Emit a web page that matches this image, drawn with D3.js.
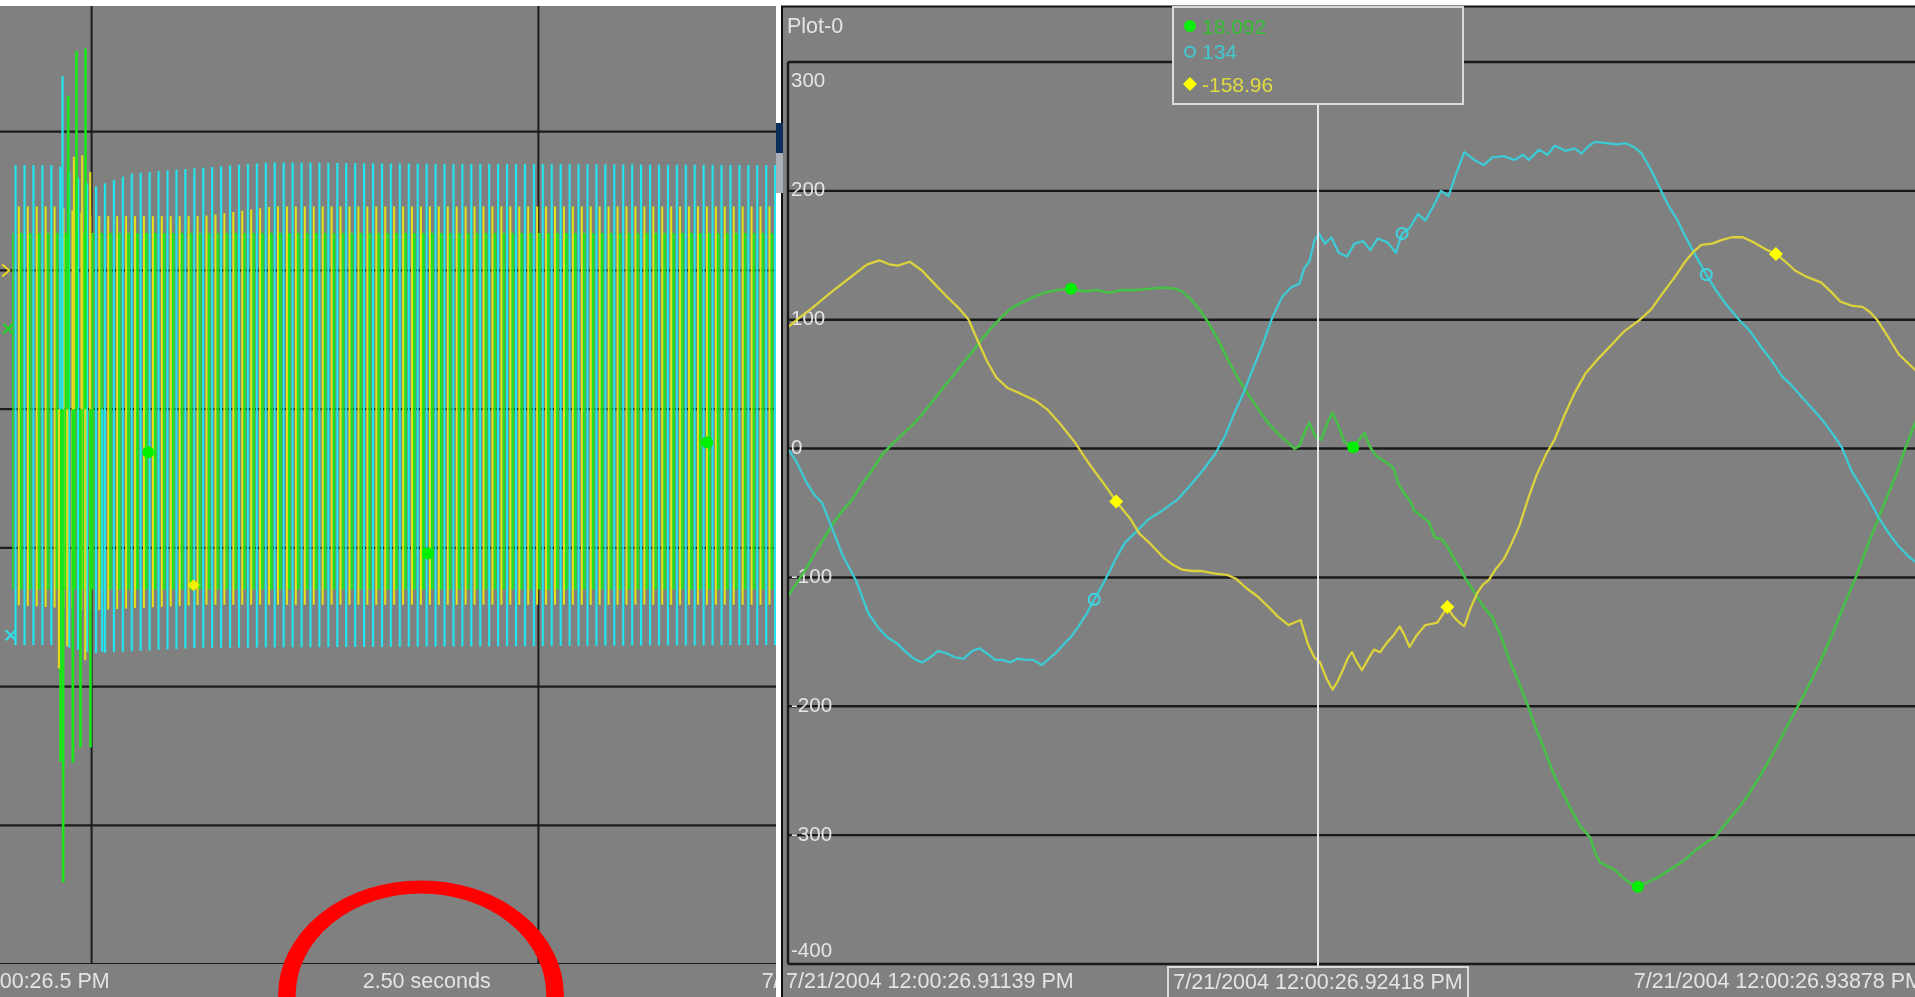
<!DOCTYPE html>
<html><head><meta charset="utf-8">
<script src="https://cdn.jsdelivr.net/npm/d3@7"></script>
<style>
html,body{margin:0;padding:0;background:#fff;overflow:hidden}
svg{display:block;filter:blur(0.5px)}
text{font-family:"Liberation Sans",Arial,sans-serif}
</style></head><body>
<svg id="c" width="1915" height="997"></svg>
<script>
// ================= DATA =================
// ---- Left panel (overview, seconds after 12:00:00) ----
const datePrefix = "7/21/2004 12:00:";
const leftStartSec = 26.5;
const leftEndSec = 29.0;
const leftXGrid = [27.0, 28.0];
const leftYGrid = [200, 100, 0, -100, -200, -300, -400];
const leftCarrierHz = 50;
// envelopes of the dense waveforms [time s, value]
const cyanEnvUpper = [[26.8223,176],[26.923,176],[27.0058,160],[27.0909,170],[27.4042,178],[27.6728,177],[28.55,176]];
const cyanEnvLower = [[26.8223,-170],[26.923,-170],[27.0058,-176],[27.2475,-172],[28.55,-170]];
const yellowEnvUpper = [[26.8223,146],[26.923,146],[27.0058,139],[27.2475,139],[27.4042,146],[28.55,146]];
const yellowEnvLower = [[26.8223,-141],[27.0058,-145],[27.2475,-141],[28.55,-141]];
const greenEnvUpper = [[26.8223,127],[28.55,127]];
const greenEnvLower = [[26.8223,-130],[28.55,-130]];
// fault transient peaks [time s, value]
const greenSpikes = [[26.9304,-254],[26.9364,-341],[26.9476,226],[26.9581,-255],[26.9662,258],[26.9752,-244],[26.9864,260],[26.9975,-244]];
const yellowSpikes = [[26.9268,-187],[26.9454,-171],[26.9604,182],[26.9790,183],[26.9857,-181],[26.9969,171]];
const cyanSpikes = [[26.9349,240],[27.0237,-175]];
// markers on the overview
const leftGreenDots = [[27.1267,-31],[27.7527,-104],[28.3778,-24]];
const leftYellowDiamonds = [[27.2283,-127]];
const leftStartMarks = [["yellow",26.8089,100],["green",26.8133,58],["cyan",26.8189,-163]];

// ---- Right panel "Plot-0" (ms after 12:00:26.900) ----
const plotTitle = "Plot-0";
const rightBaseSec = 26.9;
const rightDomainMs = [11.39, 38.78];
const rightTimeTicksMs = [11.39, 24.18, 38.78];
const cursorMs = 24.18;
const rightYTicks = [300, 200, 100, 0, -100, -200, -300, -400];
const legendValues = ["18.092", "134", "-158.96"];

const yellowSeries = [[11.38,94],[11.68,102],[11.97,109],[12.42,121],[12.86,132],[13.30,143],[13.60,146],[13.83,143],[14.04,142],[14.33,145],[14.63,138],[14.92,128],[15.22,118],[15.51,109],[15.75,100],[15.95,85],[16.19,68],[16.42,55],[16.69,47],[16.98,43],[17.37,37],[17.66,30],[17.96,19],[18.31,5],[18.66,-12],[19.05,-29],[19.31,-41],[19.64,-54],[19.87,-66],[20.17,-75],[20.43,-84],[20.67,-90],[20.90,-94],[21.14,-95],[21.35,-95],[21.70,-97],[21.99,-98],[22.20,-101],[22.44,-108],[22.73,-115],[23.02,-124],[23.20,-130],[23.47,-137],[23.61,-135],[23.76,-133],[23.94,-152],[24.09,-162],[24.23,-166],[24.38,-178],[24.53,-187],[24.65,-181],[24.79,-171],[24.91,-162],[25.00,-158],[25.12,-166],[25.24,-172],[25.38,-164],[25.53,-156],[25.68,-158],[25.86,-150],[26.00,-145],[26.15,-138],[26.27,-145],[26.39,-154],[26.56,-145],[26.77,-137],[26.92,-136],[27.06,-135],[27.30,-123],[27.44,-130],[27.59,-135],[27.71,-138],[27.86,-124],[28.01,-113],[28.15,-106],[28.30,-102],[28.48,-93],[28.66,-86],[28.86,-73],[29.04,-60],[29.25,-39],[29.45,-21],[29.69,-4],[29.89,7],[30.13,26],[30.37,43],[30.63,58],[30.92,69],[31.22,79],[31.57,91],[31.95,100],[32.22,108],[32.51,121],[32.81,134],[33.04,145],[33.22,152],[33.43,158],[33.69,159],[33.93,162],[34.17,164],[34.43,164],[34.70,160],[34.96,155],[35.23,151],[35.46,145],[35.70,138],[35.99,133],[36.32,129],[36.58,121],[36.79,114],[37.05,111],[37.32,110],[37.50,106],[37.67,100],[37.91,88],[38.20,73],[38.59,61],[38.78,54]];

const cyanSeries = [[11.38,0],[11.59,-10],[11.83,-26],[12.03,-36],[12.21,-42],[12.42,-59],[12.71,-83],[13.04,-103],[13.33,-128],[13.57,-139],[13.77,-146],[14.01,-151],[14.21,-157],[14.42,-163],[14.63,-166],[14.83,-162],[15.01,-157],[15.22,-159],[15.42,-162],[15.63,-163],[15.84,-157],[16.01,-155],[16.19,-159],[16.39,-164],[16.57,-164],[16.75,-166],[16.93,-163],[17.13,-164],[17.31,-164],[17.51,-168],[17.66,-164],[17.84,-159],[18.07,-151],[18.25,-145],[18.40,-138],[18.60,-128],[18.78,-117],[18.96,-107],[19.14,-96],[19.31,-85],[19.52,-73],[19.78,-65],[20.08,-55],[20.43,-48],[20.81,-39],[21.11,-28],[21.40,-17],[21.70,-4],[21.94,10],[22.14,26],[22.38,43],[22.61,62],[22.85,81],[23.08,102],[23.32,118],[23.53,125],[23.73,128],[23.85,140],[23.97,145],[24.09,161],[24.20,167],[24.35,159],[24.50,164],[24.68,152],[24.88,149],[25.06,159],[25.27,161],[25.44,154],[25.62,163],[25.86,160],[26.06,152],[26.21,167],[26.39,171],[26.59,182],[26.77,177],[26.98,189],[27.15,200],[27.33,196],[27.51,213],[27.71,230],[27.95,224],[28.18,220],[28.39,226],[28.66,227],[28.92,224],[29.13,228],[29.27,224],[29.51,232],[29.72,228],[29.89,235],[30.16,231],[30.37,233],[30.54,229],[30.72,235],[30.86,238],[31.13,237],[31.40,236],[31.60,237],[31.81,234],[31.99,229],[32.22,216],[32.46,200],[32.63,189],[32.84,178],[33.04,165],[33.22,154],[33.55,135],[33.78,123],[34.05,111],[34.34,100],[34.61,91],[34.87,79],[35.11,69],[35.38,56],[35.61,49],[35.88,39],[36.14,30],[36.38,21],[36.61,11],[36.82,1],[37.05,-17],[37.26,-28],[37.47,-39],[37.70,-53],[37.94,-65],[38.17,-75],[38.41,-83],[38.59,-88],[38.78,-93]];

const greenSeries = [[11.38,-115],[11.59,-105],[11.83,-93],[12.06,-80],[12.27,-69],[12.50,-57],[12.71,-48],[12.95,-39],[13.18,-27],[13.42,-17],[13.65,-5],[13.92,4],[14.18,12],[14.42,19],[14.66,28],[14.89,37],[15.13,47],[15.36,56],[15.60,66],[15.84,75],[16.07,85],[16.31,94],[16.54,102],[16.78,109],[17.01,113],[17.28,117],[17.57,121],[17.90,123],[18.22,124],[18.55,122],[18.84,123],[19.14,121],[19.43,123],[19.78,123],[20.14,124],[20.46,125],[20.73,124],[20.90,122],[21.11,116],[21.32,108],[21.55,97],[21.79,83],[22.02,68],[22.26,54],[22.50,42],[22.73,31],[22.97,20],[23.20,12],[23.44,5],[23.61,0],[23.73,2],[23.85,12],[23.97,20],[24.12,9],[24.26,7],[24.41,20],[24.53,28],[24.68,17],[24.82,5],[25.03,1],[25.18,7],[25.30,12],[25.44,1],[25.59,-6],[25.74,-9],[25.88,-12],[26.00,-15],[26.12,-27],[26.24,-34],[26.39,-40],[26.50,-48],[26.62,-51],[26.74,-54],[26.86,-57],[27.00,-69],[27.15,-70],[27.30,-76],[27.44,-84],[27.59,-92],[27.74,-101],[27.95,-111],[28.18,-123],[28.39,-131],[28.60,-146],[28.80,-164],[29.01,-180],[29.25,-200],[29.45,-218],[29.66,-235],[29.86,-252],[30.07,-266],[30.27,-279],[30.51,-293],[30.75,-302],[30.86,-313],[30.98,-321],[31.16,-324],[31.34,-327],[31.51,-332],[31.69,-337],[31.90,-340],[32.10,-337],[32.37,-333],[32.66,-327],[32.96,-321],[33.28,-312],[33.58,-305],[33.78,-301],[34.02,-291],[34.28,-281],[34.58,-268],[34.87,-253],[35.17,-236],[35.46,-218],[35.76,-200],[36.05,-182],[36.32,-164],[36.58,-145],[36.88,-121],[37.17,-99],[37.47,-73],[37.82,-45],[38.12,-21],[38.35,0],[38.59,20],[38.78,36]];

const greenMarkers = [[18.22,124],[25.03,1],[31.90,-340]];
const cyanMarkers = [[18.78,-117],[26.21,167],[33.55,135]];
const yellowMarkers = [[19.31,-41],[27.30,-123],[35.23,151]];

// ================= DRAWING =================
const W = 1915, H = 997;
const TXT = "#e4e4e4";
const svg = d3.select("#c");
const defs = svg.append("defs");
svg.append("rect").attr("width", W).attr("height", H).attr("fill", "#ffffff");

// ---------- LEFT PANEL ----------
const xL = d3.scaleLinear().domain([leftStartSec, leftEndSec]).range([-131.8, 985.2]);
const yL = d3.scaleLinear().domain([-400, 200]).range([964, 131.7]);
svg.append("rect").attr("x", 0).attr("y", 6).attr("width", 776).attr("height", H - 6).attr("fill", "#808080");
defs.append("clipPath").attr("id", "clipL").append("rect").attr("x", 0).attr("y", 6).attr("width", 776).attr("height", 958);
defs.append("clipPath").attr("id", "clipLall").append("rect").attr("x", 0).attr("y", 6).attr("width", 776).attr("height", H);

const gL = svg.append("g").attr("clip-path", "url(#clipL)");
gL.selectAll("line.hg").data(leftYGrid).join("line")
  .attr("x1", 0).attr("x2", 776).attr("y1", d => yL(d)).attr("y2", d => yL(d))
  .attr("stroke", "#1c1c1c").attr("stroke-width", 2.2);
gL.selectAll("line.vg").data(leftXGrid).join("line")
  .attr("x1", d => xL(d)).attr("x2", d => xL(d)).attr("y1", 6).attr("y2", 964)
  .attr("stroke", "#1c1c1c").attr("stroke-width", 2);

// stripe patterns (one stroke per carrier cycle)
const period = xL(leftStartSec + 1 / leftCarrierHz) - xL(leftStartSec);
function stripePattern(id, phase, stripes) {
  const p = defs.append("pattern").attr("id", id).attr("patternUnits", "userSpaceOnUse")
    .attr("x", phase).attr("y", 0).attr("width", period).attr("height", H);
  stripes.forEach(s => p.append("rect").attr("x", s[0]).attr("y", 0).attr("width", s[1]).attr("height", H).attr("fill", s[2]));
}
stripePattern("patG", 2.0, [[0, 1.8, "#10f410"], [1.8, 1.3, "#38c838"]]);
stripePattern("patY", 0.0, [[0, 1.9, "#eae614"]]);
stripePattern("patC", 5.6, [[0, 2.1, "#1ee8f2"]]);

const bandLine = d3.line().x(d => xL(d[0])).y(d => yL(d[1]));
function band(up, lo, pat) {
  gL.append("path").attr("d", bandLine(up.concat(lo.slice().reverse())) + "Z").attr("fill", "url(#" + pat + ")");
}
band(greenEnvUpper, greenEnvLower, "patG");
band(yellowEnvUpper, yellowEnvLower, "patY");
band(cyanEnvUpper, cyanEnvLower, "patC");

function spikes(arr, color, w) {
  gL.selectAll(null).data(arr).join("line")
    .attr("x1", d => xL(d[0])).attr("x2", d => xL(d[0]))
    .attr("y1", d => yL(d[1])).attr("y2", yL(0))
    .attr("stroke", color).attr("stroke-width", w);
}
spikes(greenSpikes, "#18e818", 2.6);
spikes(yellowSpikes, "#e0d820", 2.2);
spikes(cyanSpikes, "#22e4f0", 2.2);

gL.selectAll(null).data(leftGreenDots).join("circle")
  .attr("cx", d => xL(d[0])).attr("cy", d => yL(d[1])).attr("r", 6).attr("fill", "#00f000");
gL.selectAll(null).data(leftYellowDiamonds).join("path")
  .attr("transform", d => `translate(${xL(d[0])},${yL(d[1])})`)
  .attr("d", "M0,-6L6,0L0,6L-6,0Z").attr("fill", "#f0f000");
leftStartMarks.forEach(m => {
  const x = xL(m[1]), y = yL(m[2]);
  if (m[0] === "yellow") {
    gL.append("path").attr("d", `M${x-4},${y-6}L${x+3},${y}L${x-4},${y+6}`).attr("fill", "none").attr("stroke", "#e8d820").attr("stroke-width", 2);
  } else {
    const c = m[0] === "green" ? "#20d820" : "#30e0f0";
    gL.append("path").attr("d", `M${x-5},${y-5}L${x+5},${y+5}M${x-5},${y+5}L${x+5},${y-5}`).attr("stroke", c).attr("stroke-width", 2);
  }
});

// bottom labels of left panel
const gLt = svg.append("g").attr("clip-path", "url(#clipLall)");
const secFmt = s => String(+s.toFixed(2));
gLt.append("text").attr("x", xL(leftStartSec)).attr("y", 987.5).attr("font-size", 21.5).attr("fill", TXT)
  .text(datePrefix + secFmt(leftStartSec) + " PM");
gLt.append("text").attr("x", xL((leftStartSec + leftEndSec) / 2)).attr("y", 987.5).attr("text-anchor", "middle")
  .attr("font-size", 21.5).attr("fill", TXT).text((leftEndSec - leftStartSec).toFixed(2) + " seconds");
gLt.append("text").attr("x", xL(leftEndSec)).attr("y", 987.5).attr("text-anchor", "end")
  .attr("font-size", 21.5).attr("fill", TXT).text(datePrefix + secFmt(leftEndSec) + " PM");

// red annotation ring
svg.append("g").attr("transform", "translate(421,995) scale(1.35,1)")
  .append("ellipse").attr("rx", 99.3).attr("ry", 108).attr("fill", "none")
  .attr("stroke", "#ff0000").attr("stroke-width", 13);

// window pieces between panels
svg.append("rect").attr("x", 776).attr("y", 123).attr("width", 7).attr("height", 30).attr("fill", "#0c2e5c");
svg.append("rect").attr("x", 776).attr("y", 153).attr("width", 7).attr("height", 40).attr("fill", "#aab0b8");

// ---------- RIGHT PANEL ----------
const xR = d3.scaleLinear().domain(rightDomainMs).range([788, 1923]);
const yR = d3.scaleLinear().domain([-400, 300]).range([964, 62]);
svg.append("rect").attr("x", 783).attr("y", 7).attr("width", W - 783).attr("height", H - 7).attr("fill", "#808080");
svg.append("line").attr("x1", 781).attr("x2", W).attr("y1", 6.5).attr("y2", 6.5).attr("stroke", "#101010").attr("stroke-width", 2);
svg.append("line").attr("x1", 782).attr("x2", 782).attr("y1", 193).attr("y2", H).attr("stroke", "#101010").attr("stroke-width", 2);
svg.append("line").attr("x1", 782).attr("x2", 782).attr("y1", 6).attr("y2", 123).attr("stroke", "#101010").attr("stroke-width", 2);

svg.append("text").attr("x", 787).attr("y", 33).attr("font-size", 21.5).attr("fill", TXT).text(plotTitle);

const gR = svg.append("g");
gR.selectAll("line.g").data(rightYTicks).join("line")
  .attr("x1", 788).attr("x2", 1923).attr("y1", d => yR(d)).attr("y2", d => yR(d))
  .attr("stroke", "#1a1a1a").attr("stroke-width", 2.4);
gR.append("line").attr("x1", 788).attr("x2", 788).attr("y1", yR(300)).attr("y2", yR(-400))
  .attr("stroke", "#1a1a1a").attr("stroke-width", 2.4);

gR.selectAll("text.yt").data(rightYTicks).join("text")
  .attr("x", 791)
  .attr("y", d => d === 300 ? yR(d) + 24.5 : d === -400 ? yR(d) - 7 : yR(d) + 5.5)
  .attr("font-size", 20.5).attr("fill", TXT).text(d => d);

defs.append("clipPath").attr("id", "clipR").append("rect").attr("x", 789).attr("y", 62).attr("width", 1140).attr("height", 902);
const gLines = svg.append("g").attr("clip-path", "url(#clipR)");
const lineR = d3.line().x(d => xR(d[0])).y(d => yR(d[1]));
gLines.append("path").attr("d", lineR(greenSeries)).attr("fill", "none").attr("stroke", "#46c046").attr("stroke-width", 2.6).attr("stroke-linejoin", "round");
gLines.append("path").attr("d", lineR(cyanSeries)).attr("fill", "none").attr("stroke", "#3ccad4").attr("stroke-width", 2.3).attr("stroke-linejoin", "round");
gLines.append("path").attr("d", lineR(yellowSeries)).attr("fill", "none").attr("stroke", "#dcd23c").attr("stroke-width", 2.3).attr("stroke-linejoin", "round");

// cursor
const cx = xR(cursorMs);
svg.append("line").attr("x1", cx).attr("x2", cx).attr("y1", 104).attr("y2", 967).attr("stroke", "#e6e6e6").attr("stroke-width", 2);

// markers
gLines.selectAll(null).data(greenMarkers).join("circle")
  .attr("cx", d => xR(d[0])).attr("cy", d => yR(d[1])).attr("r", 6).attr("fill", "#00ee00");
gLines.selectAll(null).data(cyanMarkers).join("circle")
  .attr("cx", d => xR(d[0])).attr("cy", d => yR(d[1])).attr("r", 5.5).attr("fill", "none").attr("stroke", "#40d4e0").attr("stroke-width", 2);
gLines.selectAll(null).data(yellowMarkers).join("path")
  .attr("transform", d => `translate(${xR(d[0])},${yR(d[1])})`)
  .attr("d", "M0,-7L7,0L0,7L-7,0Z").attr("fill", "#ffff00");

// legend box hanging from cursor
const lbW = 290, lbX = cx - lbW / 2;
svg.append("rect").attr("x", lbX).attr("y", 7).attr("width", lbW).attr("height", 97)
  .attr("fill", "#808080").attr("stroke", "#dadada").attr("stroke-width", 2);
const legRows = [
  {y: 26, sym: "dot", col: "#10ee10", tcol: "#34c034"},
  {y: 51.7, sym: "circle", col: "#40c8d4", tcol: "#40c8d0"},
  {y: 84, sym: "diamond", col: "#ffff00", tcol: "#e0dc40"}
];
legRows.forEach((r, i) => {
  const sx = lbX + 17;
  if (r.sym === "dot") svg.append("circle").attr("cx", sx).attr("cy", r.y).attr("r", 6).attr("fill", r.col);
  else if (r.sym === "circle") svg.append("circle").attr("cx", sx).attr("cy", r.y).attr("r", 5).attr("fill", "none").attr("stroke", r.col).attr("stroke-width", 2);
  else svg.append("path").attr("transform", `translate(${sx},${r.y})`).attr("d", "M0,-7L7,0L0,7L-7,0Z").attr("fill", r.col);
  svg.append("text").attr("x", lbX + 29).attr("y", r.y + 7.5).attr("font-size", 21).attr("fill", r.tcol).text(legendValues[i]);
});

// time labels
const tFmt = ms => datePrefix + (rightBaseSec + ms / 1000).toFixed(5) + " PM";
svg.append("text").attr("x", 786).attr("y", 987.5).attr("font-size", 21.5).attr("fill", TXT).text(tFmt(rightTimeTicksMs[0]));
svg.append("rect").attr("x", cx - 150).attr("y", 967).attr("width", 300).attr("height", 40)
  .attr("fill", "none").attr("stroke", "#dadada").attr("stroke-width", 2);
svg.append("text").attr("x", cx).attr("y", 988.5).attr("text-anchor", "middle").attr("font-size", 21.5).attr("fill", TXT).text(tFmt(rightTimeTicksMs[1]));
svg.append("text").attr("x", xR(rightTimeTicksMs[2])).attr("y", 987.5).attr("text-anchor", "end").attr("font-size", 21.5).attr("fill", TXT).text(tFmt(rightTimeTicksMs[2]));
</script>
</body></html>
